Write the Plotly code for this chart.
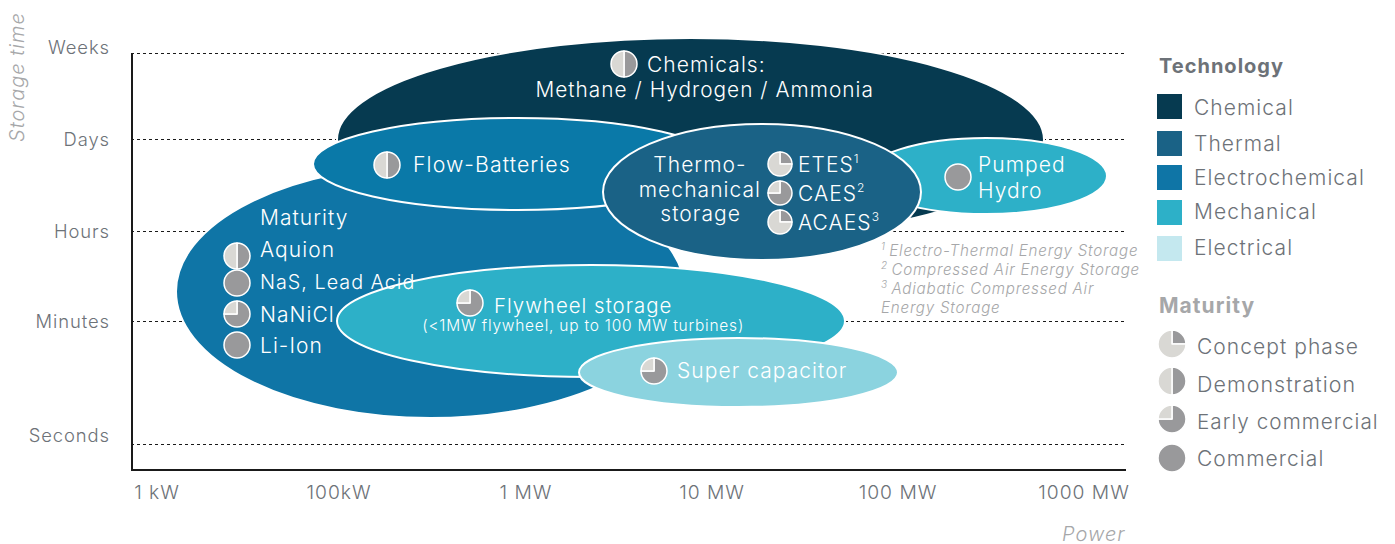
import plotly.graph_objects as go

W, H = 1395, 544
AX_L, AX_R, AX_B = 131, 1126, 469

# ---- data (axis units: power 0-995, storage time 0-469) ----
power_ticks = [26, 208, 395, 581, 767, 953]
power_labels = ["1 kW", "100kW", "1 MW", "10 MW", "100 MW", "1000 MW"]
time_grid = [25, 148, 238, 330, 416]
time_label_pos = [33, 147.5, 237.5, 329.5, 421]
time_labels = ["Seconds", "Minutes", "Hours", "Days", "Weeks"]

tech_names = ["Chemical", "Thermal", "Electrochemical", "Mechanical", "Electrical"]
tech_colors = ["#063a50", "#1a6286", "#0f75a6", "#2db0c8", "#c4e8ef"]

region_names = ["Chemicals", "Li-family", "Flow-Batteries", "Pumped Hydro",
                "Flywheel", "Super capacitor", "Thermo-mechanical"]
region_power_lo = [206, 45, 182, 734, 206, 448, 472]
region_power_hi = [913, 554, 590, 976, 714, 767, 790]
region_time_lo = [228, 51, 259, 255, 92, 62, 209]
region_time_hi = [431, 304, 351, 331, 204, 131, 345]
region_colors = ["#063a50", "#0f75a6", "#0a79a8", "#2db0c8", "#2db0c8", "#8bd3df", "#1a6286"]

maturity_names = ["Concept phase", "Demonstration", "Early commercial", "Commercial"]
maturity_share = [25, 50, 75, 100]

glyph_names = ["Chemicals", "Flow", "ETES", "CAES", "ACAES", "Pumped", "Aquion",
               "NaS", "NaNiCl", "LiIon", "Flywheel", "Super"]
glyph_maturity = [1, 1, 0, 2, 0, 3, 1, 3, 2, 3, 2, 2]

# ---- layout geometry (pixels) ----
glyph_cx = [624, 387, 780, 780, 780, 958, 237, 237, 237, 237, 470, 654]
glyph_cy = [64, 165, 164, 193, 222, 177, 256, 283, 314, 345, 303, 371]
glyph_r = [13, 13, 12, 12, 12, 13, 13, 13, 13, 13, 13, 13]
legend_pie_cy = [344, 381, 419, 458]
legend_sq_top = [94, 131, 165, 200, 236]

DARK = "#99999b"
LIGHT = "#d9d8d4"
TXT = "#6d7278"
GREY = "#a6a7a9"
FONT = "Inter"

fig = go.Figure()


def pie(cx, cy, r, share, line):
    vals = [share, 100 - share] if share < 100 else [100]
    fig.add_trace(go.Pie(
        values=vals, sort=False, direction="clockwise", rotation=0,
        marker=dict(colors=[DARK, LIGHT], line=dict(color="white", width=line)),
        textinfo="none", hoverinfo="skip", showlegend=False,
        domain=dict(x=[(cx - r) / W, (cx + r) / W], y=[1 - (cy + r) / H, 1 - (cy - r) / H]),
    ))


for name, m, cx, cy, r in zip(glyph_names, glyph_maturity, glyph_cx, glyph_cy, glyph_r):
    pie(cx, cy, r, maturity_share[m], 1.5)
for s, cy in zip(maturity_share, legend_pie_cy):
    pie(1172, cy, 14, s, 1.5)

# second y axis only carries the (slightly offset) time labels
fig.add_trace(go.Scatter(x=[0], y=[0], yaxis="y2", mode="markers", marker=dict(opacity=0),
                         hoverinfo="skip", showlegend=False))

shapes = []
for lo, hi, tlo, thi, c in zip(region_power_lo, region_power_hi, region_time_lo, region_time_hi, region_colors):
    shapes.append(dict(type="circle", xref="x", yref="y", x0=lo, x1=hi, y0=tlo, y1=thi,
                       fillcolor=c, line=dict(color="white", width=2), layer="between"))
# half of this line is clipped by the plot area, leaving 2px visible
shapes.append(dict(type="line", xref="x", yref="y", x0=0, x1=0, y0=0, y1=time_grid[-1],
                   line=dict(color="#1a1a1a", width=4), layer="between"))
for c, top in zip(tech_colors, legend_sq_top):
    shapes.append(dict(type="rect", xref="paper", yref="paper", x0=1157 / W, x1=1182 / W,
                       y0=1 - (top + 25) / H, y1=1 - top / H, fillcolor=c, line=dict(width=0)))

ann = []


def label(text, x, y, size=21, color="white", anchor="left", weight=300, italic=False, angle=0):
    ann.append(dict(text=text, x=x / W, y=1 - y / H, xref="paper", yref="paper", showarrow=False,
                    xanchor=anchor, align=anchor, yanchor="middle", textangle=angle, borderpad=0, borderwidth=0,
                    font=dict(family=FONT, size=size, color=color, weight=weight,
                              style="italic" if italic else "normal")))


def sup(n):
    return f'<sup><span style="font-size:12px">{n}</span></sup>'


label("Chemicals:", 647, 64)
label("Methane / Hydrogen / Ammonia", 704, 89.5, size=20.8, anchor="center")
label("Flow-Batteries", 413, 163.5, size=21.3)
for t, y in zip(["Thermo-", "mechanical", "storage"], [164, 189, 214]):
    label(t, 700, y, anchor="center")
for t, y in zip(["ETES" + sup(1), "CAES" + sup(2), "ACAES" + sup(3)], [164, 193, 222]):
    label(t, 798, y)
label("Pumped", 978, 164)
label("Hydro", 978, 190)
for t, y, s in zip(["Maturity", "Aquion", "NaS, Lead Acid", "NaNiCl", "Li-Ion"],
                   [217.5, 250, 282, 314, 345], [21, 21, 19.8, 21, 21]):
    label(t, 260, y, size=s)
label("Flywheel storage", 494, 305, size=20.4)
label("(<1MW flywheel, up to 100 MW turbines)", 583, 325, size=15.5, anchor="center")
label("Super capacitor", 677, 370)
fn = '<sup><span style="font-size:10px">%s </span></sup>'
for t, y in zip([fn % 1 + "Electro-Thermal Energy Storage", fn % 2 + "Compressed Air Energy Storage",
                 fn % 3 + "Adiabatic Compressed Air", "Energy Storage"], [249.5, 268.5, 287.5, 307.5]):
    label(t, 881, y, size=15.2, color=GREY, italic=True)
label("Storage time", 17, 77, size=20, color=GREY, anchor="center", italic=True, angle=-90)
label("Power", 1126, 534, size=20, color=GREY, anchor="right", italic=True)
label("Technology", 1159, 66, size=20, color=TXT, weight=700)
label("Maturity", 1159, 305, color=GREY, weight=700)
for t, y in zip(tech_names, [108, 143, 177, 212, 247]):
    label(t, 1194, y, color=TXT)
for t, y, s in zip(maturity_names, [346, 384, 421, 458], [21, 21.4, 20.7, 21]):
    label(t, 1197, y, size=s, color=TXT)

xtick_font = dict(family=FONT, size=19.3, color=TXT, weight=300)
ytick_font = dict(family=FONT, size=18.4, color=TXT, weight=300)
fig.update_layout(
    width=W, height=H, margin=dict(l=0, r=0, t=0, b=0, pad=0, autoexpand=False),
    paper_bgcolor="white", plot_bgcolor="white", showlegend=False,
    shapes=shapes, annotations=ann,
    xaxis=dict(domain=[AX_L / W, AX_R / W], range=[0, AX_R - AX_L], tickvals=power_ticks, ticktext=power_labels,
               showgrid=False, zeroline=False, showline=True, linecolor="#1a1a1a", linewidth=2,
               ticks="", ticklabelstandoff=5, tickfont=xtick_font, automargin=False),
    yaxis=dict(domain=[1 - AX_B / H, 1], range=[0, AX_B], tickvals=time_grid, showticklabels=False,
               showgrid=True, gridcolor="#1a1a1a", gridwidth=1, griddash="3px,3px", zeroline=False,
               showline=False, ticks="", automargin=False),
    yaxis2=dict(domain=[1 - AX_B / H, 1], range=[0, AX_B], overlaying="y", anchor="x", side="left",
                tickvals=time_label_pos, ticktext=time_labels, showgrid=False, zeroline=False,
                showline=False, ticks="", ticklabelstandoff=20, tickfont=ytick_font, automargin=False),
)

post = ("document.body.style.margin='0';"
        "var s=document.createElement('style');"
        "s.textContent='svg text{letter-spacing:.05em}';"
        "document.head.appendChild(s);")
fig.write_html("out.html", post_script=post, config={"displayModeBar": False})
